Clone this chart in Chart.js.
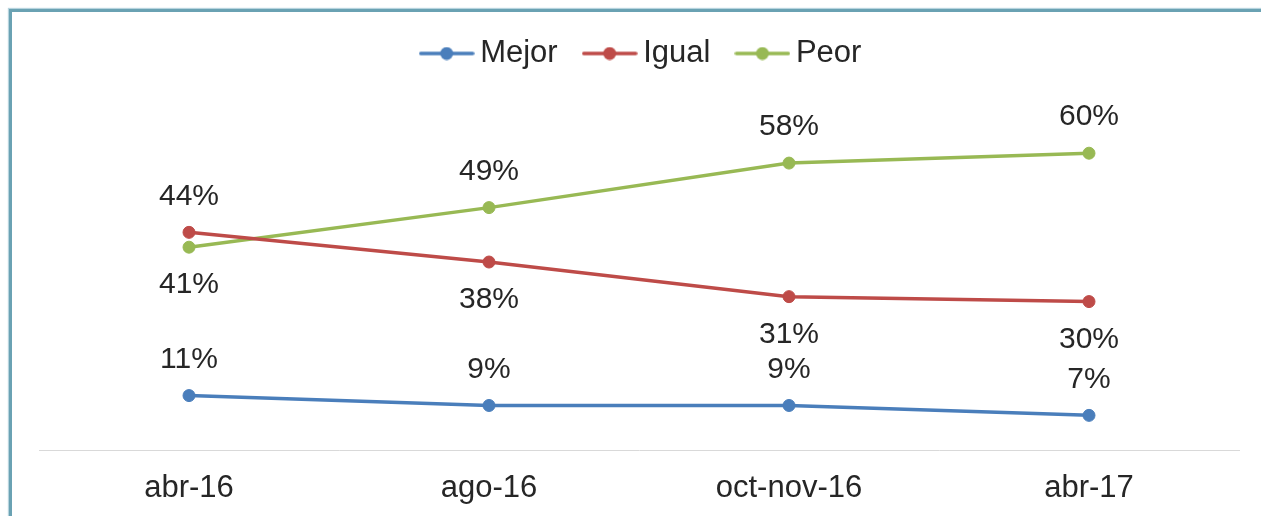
<!DOCTYPE html>
<html>
<head>
<meta charset="utf-8">
<script src="https://cdn.jsdelivr.net/npm/chart.js@4"></script>
<style>
  html, body { margin: 0; padding: 0; background: #fff; overflow: hidden; }
  #frame {
    position: absolute; left: 9px; top: 9px; width: 1300px; height: 600px;
    border-top: 3px solid #6aa2b3; border-left: 3px solid #6aa2b3;
    box-shadow: -1px -1px 1px #b7d4de;
  }
  #chart { position: absolute; left: 0; top: 0; }
</style>
</head>
<body>
<div id="frame"></div>
<canvas id="chart" width="1261" height="516"></canvas>
<script>
// Data
const categories = ['abr-16', 'ago-16', 'oct-nov-16', 'abr-17'];
const mejor = [11, 9, 9, 7];
const igual = [44, 38, 31, 30];
const peor = [41, 49, 58, 60];

// Which side of each point its label sits on
const labelSide = {
  Mejor: ['above', 'above', 'above', 'above'],
  Igual: ['above', 'below', 'below', 'below'],
  Peor: ['below', 'above', 'above', 'above']
};

const FONT = '"Liberation Sans", Arial, sans-serif';
const TEXT = '#262626';

// Legend marker: short line with a dot in the middle
function legendMarker(color) {
  const c = document.createElement('canvas');
  c.width = 56; c.height = 14;
  const g = c.getContext('2d');
  g.strokeStyle = color;
  g.lineWidth = 3.5;
  g.lineCap = 'round';
  g.beginPath(); g.moveTo(2, 7); g.lineTo(54, 7); g.stroke();
  g.fillStyle = color;
  g.beginPath(); g.arc(28, 7, 6.5, 0, Math.PI * 2); g.fill();
  return c;
}

const valueLabels = {
  id: 'valueLabels',
  afterDatasetsDraw(chart) {
    const ctx = chart.ctx;
    ctx.save();
    ctx.font = '30px ' + FONT;
    ctx.fillStyle = TEXT;
    ctx.textAlign = 'center';
    ctx.textBaseline = 'middle';
    chart.data.datasets.forEach((ds, di) => {
      const meta = chart.getDatasetMeta(di);
      const sides = labelSide[ds.label];
      meta.data.forEach((pt, i) => {
        const dy = sides[i] === 'above' ? -37 : 37;
        ctx.fillText(ds.data[i] + '%', pt.x, pt.y + dy + 1);
      });
    });
    ctx.restore();
  }
};

// nudge the legend a little to the right, like the original
const legendNudge = {
  id: 'legendNudge',
  afterLayout(chart) {
    if (chart.legend) {
      chart.legend.left += 6;
      chart.legend.right += 6;
    }
  }
};

function series(label, data, color) {
  return {
    label,
    data,
    borderColor: color,
    backgroundColor: color,
    borderWidth: 3.5,
    pointRadius: 6,
    pointBorderWidth: 1,
    pointBackgroundColor: color,
    pointBorderColor: color,
    tension: 0,
    fill: false
  };
}

new Chart(document.getElementById('chart'), {
  type: 'line',
  data: {
    labels: categories,
    datasets: [
      series('Mejor', mejor, '#4a7ebb'),
      series('Igual', igual, '#be4b48'),
      series('Peor', peor, '#98b954')
    ]
  },
  options: {
    responsive: false,
    animation: false,
    layout: { padding: { left: 39, right: 22, top: 4, bottom: 10 } },
    plugins: {
      tooltip: { enabled: false },
      legend: {
        position: 'top',
        labels: {
          usePointStyle: true,
          pointStyleWidth: 36,
          padding: 34,
          color: TEXT,
          font: { family: FONT, size: 31 },
          generateLabels(chart) {
            const items = Chart.defaults.plugins.legend.labels.generateLabels(chart);
            items.forEach(it => {
              it.pointStyle = legendMarker(chart.data.datasets[it.datasetIndex].borderColor);
            });
            return items;
          }
        }
      }
    },
    scales: {
      x: {
        offset: true,
        grid: { display: false, drawTicks: false },
        border: { display: true, color: '#d9d9d9', width: 1 },
        ticks: { color: TEXT, padding: 20, font: { family: FONT, size: 31 } },
        afterFit(scale) { scale.height = 56; }
      },
      y: {
        display: false,
        min: 0,
        max: 75
      }
    }
  },
  plugins: [valueLabels, legendNudge]
});
</script>
</body>
</html>
